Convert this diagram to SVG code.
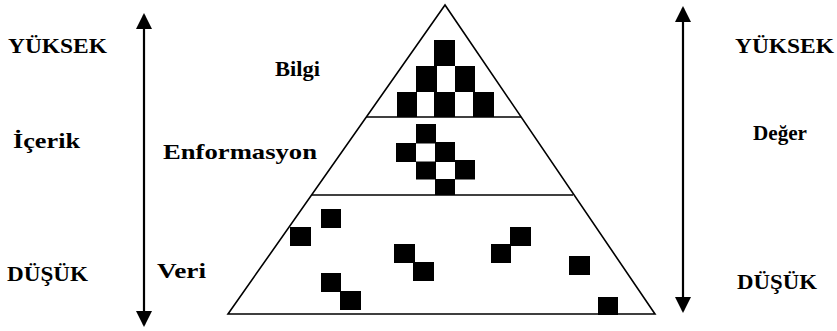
<svg xmlns="http://www.w3.org/2000/svg" width="837" height="331" viewBox="0 0 837 331">
  <style>
    .edge { stroke: #000; stroke-width: 1.6; fill: none; }
    .arrow { stroke: #000; stroke-width: 2.2; fill: none; }
    .sq { fill: #000; }
  </style>
  <defs>
    <marker id="ah" markerUnits="userSpaceOnUse" markerWidth="16" markerHeight="16" viewBox="0 0 16 16" refX="14" refY="8" orient="auto-start-reverse">
      <path d="M0,0 L16,8 L0,16 Z" fill="#000"/>
    </marker>
  </defs>
  <rect width="837" height="331" fill="#fff"/>

  <g id="pyramid">
    <path class="edge" d="M445,5 L228,314 L655,314 Z"/>
    <line class="edge" x1="366" y1="117" x2="521" y2="117"/>
    <line class="edge" x1="312" y1="195" x2="573" y2="195"/>
  </g>

  <g id="bilgi-blocks">
    <rect class="sq" x="434" y="40" width="21" height="26"/>
    <rect class="sq" x="416" y="66" width="21" height="26"/>
    <rect class="sq" x="455" y="66" width="20" height="26"/>
    <rect class="sq" x="397" y="92" width="20" height="25"/>
    <rect class="sq" x="434" y="92" width="21" height="25"/>
    <rect class="sq" x="473" y="92" width="21" height="25"/>
  </g>

  <g id="enformasyon-blocks">
    <rect class="sq" x="416" y="124" width="20" height="19.5"/>
    <rect class="sq" x="396" y="143" width="20" height="19"/>
    <rect class="sq" x="435" y="142" width="20" height="20"/>
    <rect class="sq" x="416" y="161.5" width="20" height="18"/>
    <rect class="sq" x="455" y="160" width="20" height="19.5"/>
    <rect class="sq" x="435" y="179" width="20" height="16"/>
  </g>

  <g id="veri-blocks">
    <rect class="sq" x="321" y="209" width="20" height="19"/>
    <rect class="sq" x="290" y="227" width="21" height="19"/>
    <rect class="sq" x="394" y="244" width="21" height="19"/>
    <rect class="sq" x="413" y="262" width="21" height="19"/>
    <rect class="sq" x="321" y="273" width="20" height="19"/>
    <rect class="sq" x="340" y="291" width="21" height="19"/>
    <rect class="sq" x="510" y="227" width="21" height="19"/>
    <rect class="sq" x="491" y="244" width="20" height="19"/>
    <rect class="sq" x="569" y="256" width="21" height="19"/>
    <rect class="sq" x="598" y="297" width="20" height="18"/>
  </g>

  <g id="connectors">
    <line class="arrow" x1="144" y1="15" x2="144" y2="325" marker-start="url(#ah)" marker-end="url(#ah)"/>
    <line class="arrow" x1="683" y1="8" x2="683" y2="311" marker-start="url(#ah)" marker-end="url(#ah)"/>
  </g>

  <g font-family="Liberation Serif, Times New Roman, serif" font-weight="bold" font-size="22" fill="#000">
    <g id="label-yuksek-left"><text x="8" y="53" textLength="99" lengthAdjust="spacingAndGlyphs">YÜKSEK</text></g>
    <g id="label-icerik"><text x="13" y="148" textLength="67" lengthAdjust="spacingAndGlyphs">İçerik</text></g>
    <g id="label-dusuk-left"><text x="7" y="281" textLength="81" lengthAdjust="spacingAndGlyphs">DÜŞÜK</text></g>
    <g id="label-bilgi"><text x="275" y="76" textLength="45" lengthAdjust="spacingAndGlyphs">Bilgi</text></g>
    <g id="label-enformasyon"><text x="163" y="159" textLength="154" lengthAdjust="spacingAndGlyphs">Enformasyon</text></g>
    <g id="label-veri"><text x="157" y="278" textLength="49" lengthAdjust="spacingAndGlyphs">Veri</text></g>
    <g id="label-yuksek-right"><text x="735" y="53" textLength="99" lengthAdjust="spacingAndGlyphs">YÜKSEK</text></g>
    <g id="label-deger"><text x="753" y="140" textLength="54" lengthAdjust="spacingAndGlyphs">Değer</text></g>
    <g id="label-dusuk-right"><text x="737" y="289" textLength="80" lengthAdjust="spacingAndGlyphs">DÜŞÜK</text></g>
  </g>
</svg>
